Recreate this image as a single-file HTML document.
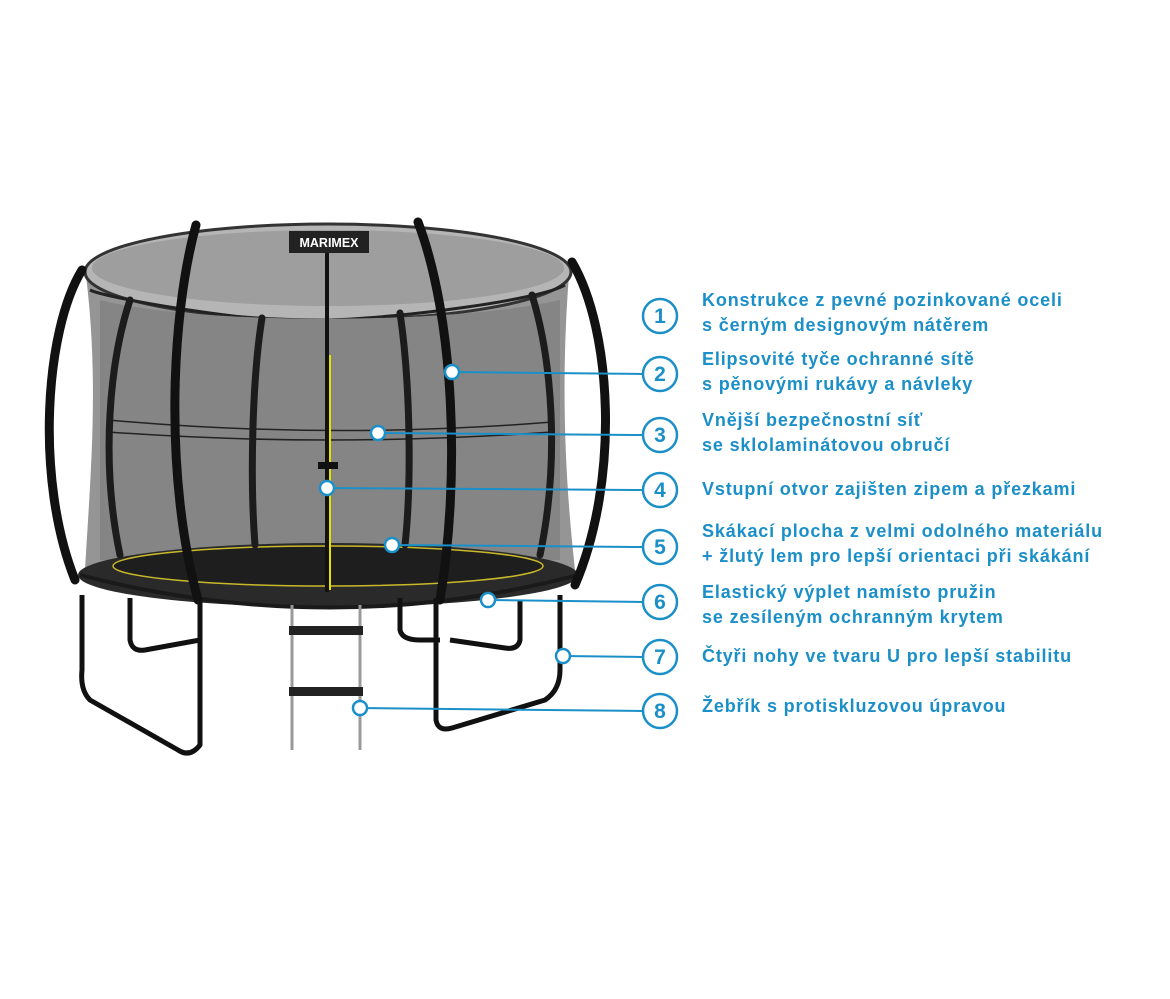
<!DOCTYPE html>
<html><head><meta charset="utf-8"><style>
body{margin:0;background:#fff;width:1170px;height:999px;overflow:hidden;font-family:"Liberation Sans",sans-serif}
.t{position:absolute;left:702px;color:#1b8fc8;font-weight:bold;font-size:18px;letter-spacing:0.85px;line-height:25px;white-space:nowrap}
</style></head><body>
<svg width="1170" height="999" style="position:absolute;left:0;top:0">
<path d="M85,268 C100,380 90,480 85,570 L575,570 C565,480 560,380 570,262 Z" fill="#8a8a8a" opacity="0.9"/>
<ellipse cx="328" cy="272" rx="243" ry="48" fill="#b5b5b5" stroke="#333" stroke-width="3"/>
<ellipse cx="328" cy="268" rx="236" ry="38" fill="#9e9e9e"/>
<path d="M90,290 C110,300 300,330 330,320 C400,318 540,300 565,285" fill="none" stroke="#222" stroke-width="3"/>
<path d="M100,300 L100,560 L560,560 L560,300 C450,325 200,325 100,300Z" fill="#858585"/>
<path d="M108,420 Q330,440 552,422" fill="none" stroke="#222" stroke-width="1.5"/>
<path d="M108,432 Q330,448 552,432" fill="none" stroke="#222" stroke-width="1.5"/>
<ellipse cx="328" cy="575" rx="250" ry="32" fill="#2a2a2a"/>
<ellipse cx="328" cy="566" rx="215" ry="20" fill="#1e1e1e" stroke="#c9b92a" stroke-width="1.5"/>
<path d="M80,575 Q330,640 578,575" fill="none" stroke="#1a1a1a" stroke-width="4"/>
<g fill="none" stroke="#1c1c1c" stroke-width="7" stroke-linecap="round">
<path d="M130,300 C110,360 100,460 120,555"/>
<path d="M262,318 C252,380 250,480 255,545"/>
<path d="M400,313 C410,380 412,480 405,545"/>
<path d="M532,295 C552,360 560,460 540,555"/>
</g>
<g fill="none" stroke="#111" stroke-width="9" stroke-linecap="round">
<path d="M82,270 C45,330 35,480 75,580"/>
<path d="M572,262 C612,330 620,480 575,585"/>
<path d="M196,225 C170,320 165,480 198,600"/>
<path d="M418,222 C455,320 460,480 440,600"/>
</g>
<line x1="327" y1="250" x2="327" y2="592" stroke="#111" stroke-width="4"/>
<line x1="330" y1="355" x2="330" y2="590" stroke="#e6e000" stroke-width="2"/>
<rect x="318" y="462" width="20" height="7" fill="#111"/>
<rect x="289" y="231" width="80" height="22" fill="#222"/>
<text x="329" y="247" fill="#fff" font-size="12.5" font-weight="bold" text-anchor="middle" font-family="Liberation Sans">MARIMEX</text>
<g fill="none" stroke="#111" stroke-width="5" stroke-linejoin="round">
<path d="M130,598 L130,640 Q132,652 145,650 L200,640"/>
<path d="M200,600 L200,745 Q190,758 178,750 L90,700 Q80,690 82,670 L82,595"/>
<path d="M400,598 L400,630 Q402,640 420,640 L440,640"/>
<path d="M436,598 L436,720 Q438,732 452,728 L545,700 Q560,690 560,670 L560,595"/>
<path d="M520,600 L520,640 Q518,650 505,648 L450,640"/>
</g>
<g stroke="#999" stroke-width="3"><line x1="292" y1="605" x2="292" y2="750"/><line x1="360" y1="605" x2="360" y2="750"/></g>
<rect x="289" y="626" width="74" height="9" fill="#222"/>
<rect x="289" y="687" width="74" height="9" fill="#222"/>
<g stroke="#1b8fc8" stroke-width="2" fill="#fff">
<line x1="452" y1="372" x2="642" y2="374"/>
<line x1="378" y1="433" x2="642" y2="435"/>
<line x1="327" y1="488" x2="642" y2="490"/>
<line x1="392" y1="545" x2="642" y2="547"/>
<line x1="488" y1="600" x2="642" y2="602"/>
<line x1="563" y1="656" x2="642" y2="657"/>
<line x1="360" y1="708" x2="642" y2="711"/>
<circle cx="452" cy="372" r="7" stroke-width="2.5"/>
<circle cx="378" cy="433" r="7" stroke-width="2.5"/>
<circle cx="327" cy="488" r="7" stroke-width="2.5"/>
<circle cx="392" cy="545" r="7" stroke-width="2.5"/>
<circle cx="488" cy="600" r="7" stroke-width="2.5"/>
<circle cx="563" cy="656" r="7" stroke-width="2.5"/>
<circle cx="360" cy="708" r="7" stroke-width="2.5"/>
<g stroke-width="2.5">
<circle cx="660" cy="316" r="17"/><circle cx="660" cy="374" r="17"/><circle cx="660" cy="435" r="17"/><circle cx="660" cy="490" r="17"/>
<circle cx="660" cy="547" r="17"/><circle cx="660" cy="602" r="17"/><circle cx="660" cy="657" r="17"/><circle cx="660" cy="711" r="17"/>
</g></g>
<g fill="#1b8fc8" font-size="21" font-weight="bold" text-anchor="middle" font-family="Liberation Sans">
<text x="660" y="323">1</text><text x="660" y="381">2</text><text x="660" y="442">3</text><text x="660" y="497">4</text>
<text x="660" y="554">5</text><text x="660" y="609">6</text><text x="660" y="664">7</text><text x="660" y="718">8</text>
</g>
</svg>
<div class="t" style="top:288px">Konstrukce z pevné pozinkované oceli<br>s černým designovým nátěrem</div>
<div class="t" style="top:347px">Elipsovité tyče ochranné sítě<br>s pěnovými rukávy a návleky</div>
<div class="t" style="top:408px">Vnější bezpečnostní síť<br>se sklolaminátovou obručí</div>
<div class="t" style="top:477px">Vstupní otvor zajišten zipem a přezkami</div>
<div class="t" style="top:519px">Skákací plocha z velmi odolného materiálu<br>+ žlutý lem pro lepší orientaci při skákání</div>
<div class="t" style="top:580px">Elastický výplet namísto pružin<br>se zesíleným ochranným krytem</div>
<div class="t" style="top:644px">Čtyři nohy ve tvaru U pro lepší stabilitu</div>
<div class="t" style="top:694px">Žebřík s protiskluzovou úpravou</div>
</body></html>
